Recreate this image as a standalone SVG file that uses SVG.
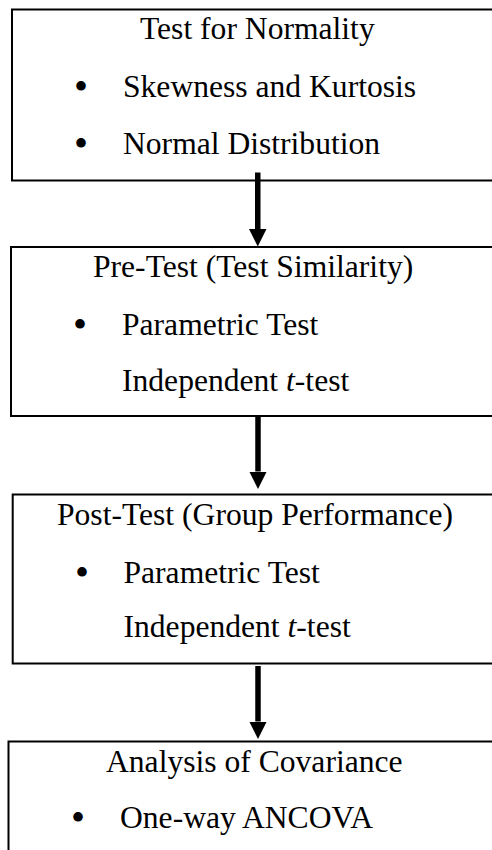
<svg xmlns="http://www.w3.org/2000/svg" width="492" height="850" viewBox="0 0 492 850">
  <style>
    .box { fill: none; stroke: #000; stroke-width: 2; }
    .txt { font-family: "Liberation Serif", "Times New Roman", serif; font-size: 31.6px; fill: #000; }
    .dot { font-family: "Liberation Serif", "Times New Roman", serif; font-size: 40px; fill: #000; }
    .flow { stroke: #000; stroke-width: 5.5; fill: none; marker-end: url(#head); }
  </style>
  <defs>
    <marker id="head" markerUnits="userSpaceOnUse" markerWidth="17.5" markerHeight="17.5"
            viewBox="0 0 17.5 17.5" refX="0" refY="8.75" orient="auto">
      <path d="M0,0 L17.5,8.75 L0,17.5 Z" fill="#000"/>
    </marker>
  </defs>
  <rect width="492" height="850" fill="#fff"/>

  <g id="normality">
    <rect class="box" x="12" y="9.5" width="520" height="171"/>
    <text class="txt" x="140" y="39">Test for Normality</text>
    <text class="dot" x="74" y="100">•</text>
    <text class="txt" x="123" y="97">Skewness and Kurtosis</text>
    <text class="dot" x="74" y="157">•</text>
    <text class="txt" x="123" y="154">Normal Distribution</text>
  </g>

  <g id="pretest">
    <rect class="box" x="11" y="247" width="520" height="169"/>
    <text class="txt" x="93" y="276.5">Pre-Test (Test Similarity)</text>
    <text class="dot" x="73" y="338">•</text>
    <text class="txt" x="122" y="335">Parametric Test</text>
    <text class="txt" x="122" y="391">Independent <tspan font-style="italic">t</tspan>-test</text>
  </g>

  <g id="posttest">
    <rect class="box" x="12.7" y="494.5" width="520" height="169"/>
    <text class="txt" x="57" y="525">Post-Test (Group Performance)</text>
    <text class="dot" x="75" y="586">•</text>
    <text class="txt" x="123.5" y="583">Parametric Test</text>
    <text class="txt" x="123.5" y="637">Independent <tspan font-style="italic">t</tspan>-test</text>
  </g>

  <g id="ancova">
    <rect class="box" x="8.5" y="741.5" width="520" height="200"/>
    <text class="txt" x="106" y="772">Analysis of Covariance</text>
    <text class="dot" x="71" y="831">•</text>
    <text class="txt" x="120" y="828">One-way ANCOVA</text>
  </g>

  <g id="connectors">
    <line class="flow" x1="257.75" y1="172.5" x2="257.75" y2="229"/>
    <line class="flow" x1="258" y1="415" x2="258" y2="471.5"/>
    <line class="flow" x1="258" y1="666" x2="258" y2="721.5"/>
  </g>
</svg>
